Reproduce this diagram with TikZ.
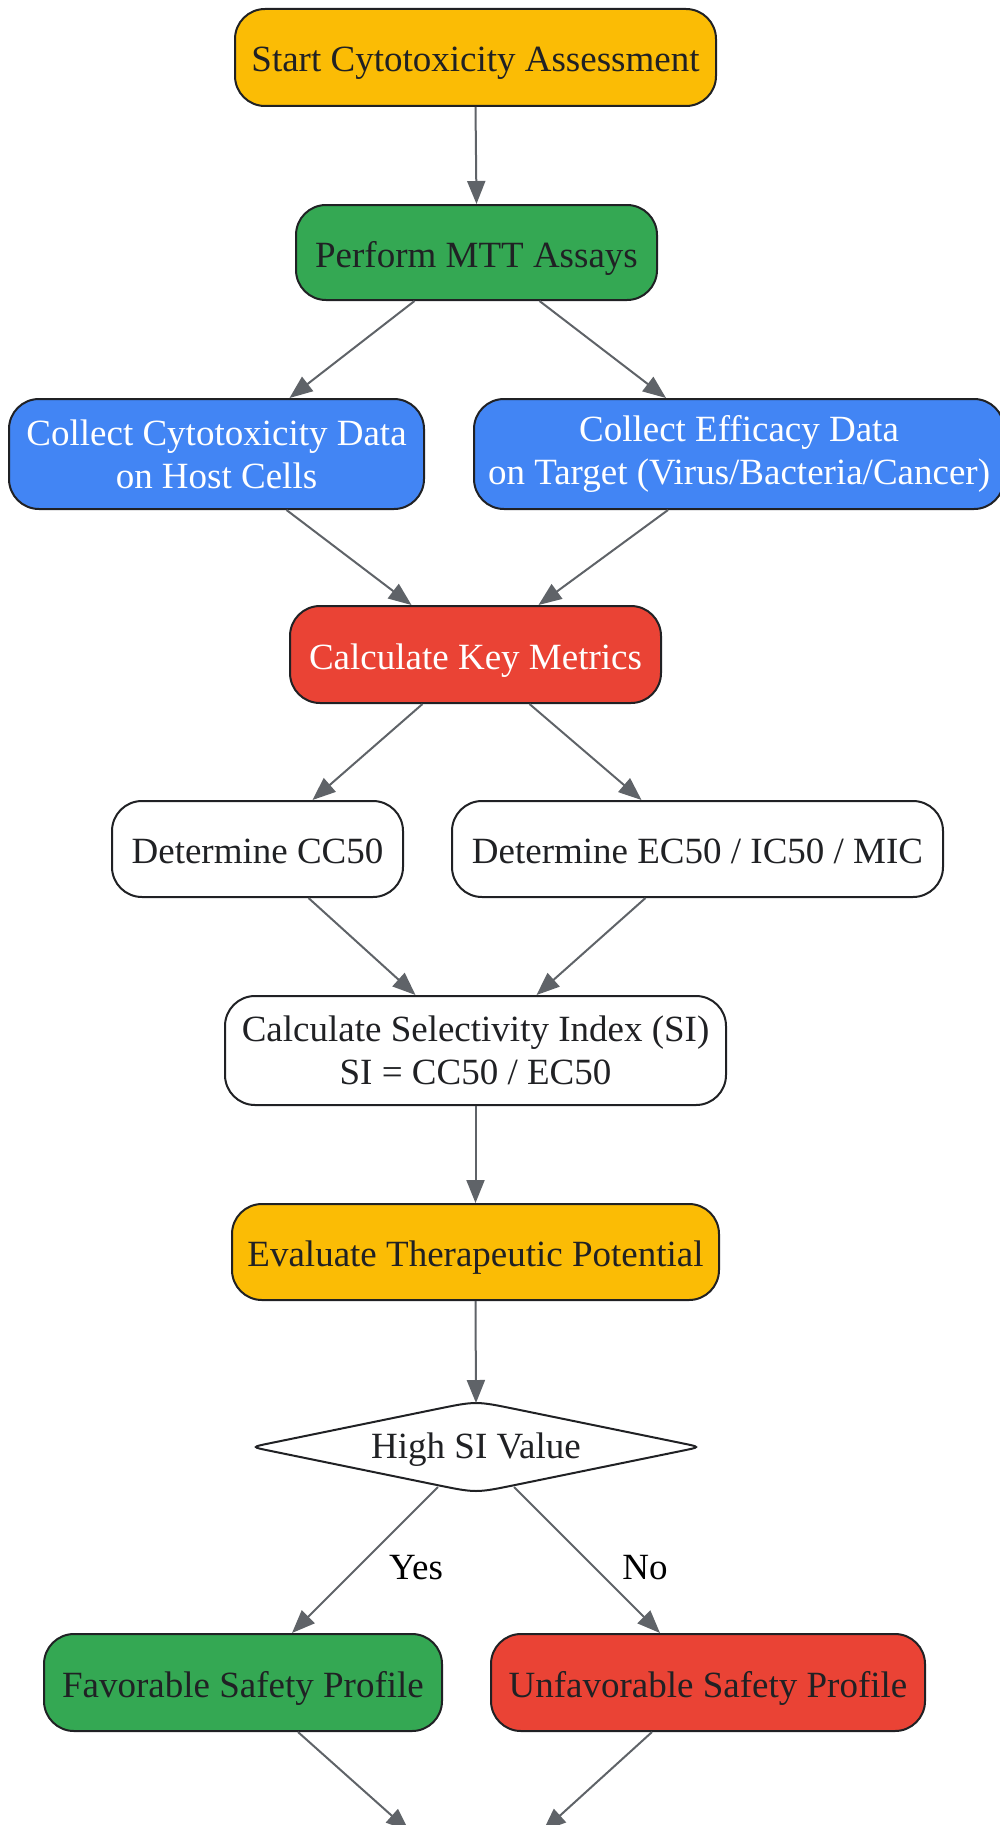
\documentclass[tikz,border=0pt]{standalone}
\usepackage{fontspec}
\setmainfont{Liberation Serif}
\usetikzlibrary{arrows.meta,shapes.geometric,calc}
\definecolor{gyellow}{HTML}{FBBC05}
\definecolor{ggreen}{HTML}{34A853}
\definecolor{gblue}{HTML}{4285F4}
\definecolor{gred}{HTML}{EA4335}
\definecolor{darktxt}{HTML}{202124}
\definecolor{edgegray}{HTML}{5F6368}
\tikzset{
  box/.style={draw=darktxt, line width=2pt, rounded corners=30pt, inner sep=0pt,
    align=center, text=darktxt, font=\fontsize{37}{43}\selectfont},
  oneline/.style={text height=29pt, text depth=0pt},
  yellowbox/.style={box, oneline, fill=gyellow},
  greenbox/.style={box, oneline, fill=ggreen},
  bluebox/.style={box, fill=gblue, text=white},
  redbox/.style={box, oneline, fill=gred},
  whitebox/.style={box, oneline, fill=white},
  whitebox2/.style={box, fill=white},
  decision/.style={draw=none, shape=diamond, aspect=5, outer sep=0pt,
    inner sep=0pt, text=darktxt, font=\fontsize{37}{43}\selectfont, text height=22pt, text depth=0pt},
  decisionline/.style={draw=darktxt, line width=2pt, fill=white},
  conn/.style={draw=edgegray, line width=2pt, -{Triangle[length=23pt,width=18pt]}},
  elabel/.style={text=black, font=\fontsize{37}{43}\selectfont, text height=29pt, text depth=0pt}
}
\begin{document}
\begin{tikzpicture}[x=1pt,y=-1pt]
\useasboundingbox (0,0) rectangle (1000,1825);
\node[yellowbox, minimum width=481pt, minimum height=97pt] (start) at (475.5,57.5) {Start Cytotoxicity Assessment};
\node[greenbox, minimum width=361pt, minimum height=95pt] (mtt) at (476.5,252.5) {Perform MTT Assays};
\node[bluebox, minimum width=415pt, minimum height=110pt] (ca) at (216.5,454) {Collect Cytotoxicity Data\\on Host Cells};
\node[bluebox, minimum width=530pt, minimum height=110pt] (ce) at (739,454) {Collect Efficacy Data\\on Target (Virus/Bacteria/Cancer)};
\node[redbox, text=white, minimum width=371pt, minimum height=97pt] (km) at (475.5,654.5) {Calculate Key Metrics};
\node[whitebox, minimum width=291pt, minimum height=96pt] (cc) at (257.5,849) {Determine CC50};
\node[whitebox, minimum width=491pt, minimum height=96pt] (ec) at (697.5,849) {Determine EC50 / IC50 / MIC};
\node[whitebox2, minimum width=501pt, minimum height=109pt] (si) at (475.5,1050.5) {Calculate Selectivity Index (SI)\\SI = CC50 / EC50};
\node[yellowbox, minimum width=487pt, minimum height=96pt] (ev) at (475.5,1252) {Evaluate Therapeutic Potential};
\node[decision, minimum width=449pt, minimum height=92pt] (dm) at (476,1447) {};
\draw[decisionline] ($(dm.west)!18pt!(dm.north)$) -- ($(dm.north)!40pt!(dm.west)$)
  .. controls (dm.north) .. ($(dm.north)!40pt!(dm.east)$) -- ($(dm.east)!18pt!(dm.north)$)
  .. controls (dm.east) .. ($(dm.east)!18pt!(dm.south)$) -- ($(dm.south)!40pt!(dm.east)$)
  .. controls (dm.south) .. ($(dm.south)!40pt!(dm.west)$) -- ($(dm.west)!18pt!(dm.south)$)
  .. controls (dm.west) .. cycle;
\node[decision, minimum width=449pt, minimum height=92pt] (dmtext) at (dm.center) {High SI Value};
\node[greenbox, minimum width=398pt, minimum height=97pt] (fav) at (243,1682.5) {Favorable Safety Profile};
\node[redbox, minimum width=434pt, minimum height=97pt] (unf) at (708,1682.5) {Unfavorable Safety Profile};
\coordinate (endL) at (409,1831);
\coordinate (endR) at (543,1831);

\draw[conn] (start.south) -- (mtt.north);
\draw[conn] ([xshift=-62pt]mtt.south) -- ([xshift=73pt]ca.north);
\draw[conn] ([xshift=63pt]mtt.south) -- ([xshift=-73pt]ce.north);
\draw[conn] ([xshift=70pt]ca.south) -- ([xshift=-64pt]km.north);
\draw[conn] ([xshift=-71pt]ce.south) -- ([xshift=63pt]km.north);
\draw[conn] ([xshift=-53pt]km.south) -- ([xshift=55pt]cc.north);
\draw[conn] ([xshift=54pt]km.south) -- ([xshift=-56pt]ec.north);
\draw[conn] ([xshift=51pt]cc.south) -- ([xshift=-60pt]si.north);
\draw[conn] ([xshift=-52pt]ec.south) -- ([xshift=61pt]si.north);
\draw[conn] (si.south) -- (ev.north);
\draw[conn] (ev.south) -- ([yshift=-2pt]dm.north);
\draw[conn] ([xshift=-38pt,yshift=6pt]dm.south) -- node[elabel, pos=0.5, xshift=51pt, yshift=-5pt] (yes) {Yes} ([xshift=49pt]fav.north);
\draw[conn] ([xshift=38pt,yshift=6pt]dm.south) -- node[elabel, pos=0.5, xshift=58pt, yshift=-5pt] (no) {No} ([xshift=-48pt]unf.north);
\draw[conn] ([xshift=55pt]fav.south) -- (endL);
\draw[conn] ([xshift=-56pt]unf.south) -- (endR);
\end{tikzpicture}
\end{document}
